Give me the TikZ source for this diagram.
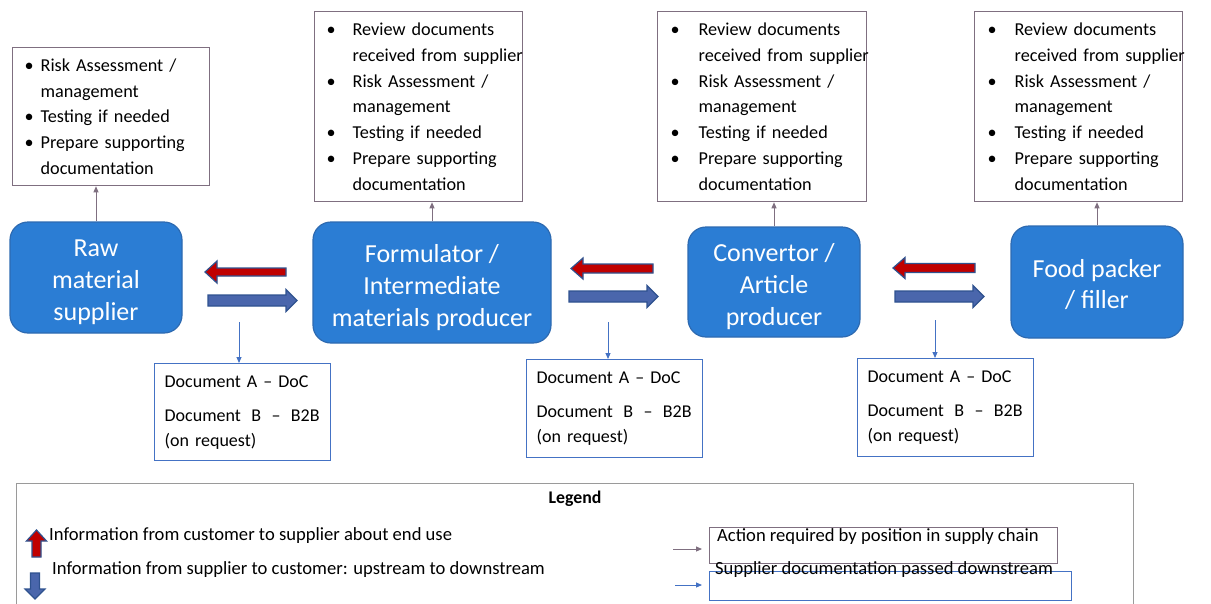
\documentclass[tikz,border=0pt]{standalone}
\usepackage{fontspec}
\setmainfont{Carlito}
\usetikzlibrary{arrows.meta}
\definecolor{boxfill}{HTML}{2B7DD4}
\definecolor{boxline}{HTML}{2D6AB1}
\definecolor{actline}{HTML}{7F6F80}
\definecolor{docline}{HTML}{4472C4}
\definecolor{legline}{HTML}{9A9A9A}
\definecolor{redfill}{HTML}{C00000}
\definecolor{bluefill}{HTML}{4A66AC}
\definecolor{blkline}{HTML}{2F528F}
\newcommand{\blkarrow}[8]{%
\begin{scope}[shift={(#2,#3)},rotate=#5]
\draw[blockarrow,fill=#1] (0,-#6) -- ({#4-#8},-#6) -- ({#4-#8},-#7) -- (#4,0) -- ({#4-#8},#7) -- ({#4-#8},#6) -- (0,#6) -- cycle;
\end{scope}}
\newcommand{\bitem}[2]{\mbox{\makebox[#1][l]{\textbullet}#2}}
\newcommand{\citem}[2]{\mbox{\hspace*{#1}#2}}
\newcommand{\docB}{\makebox[155pt][s]{Document\hfill B\hfill –\hfill B2B}}
\newcommand{\tup}[1]{\rule{0pt}{#1}}
\tikzset{
  stage/.style={draw=boxline, line width=1.2pt, fill=boxfill, rounded corners=18pt, text=white,
    font=\fontsize{26}{32}\selectfont, align=center, inner sep=0pt},
  actbox/.style={draw=actline, line width=1.3pt, fill=white, anchor=north west, align=left,
    font=\fontsize{18.2}{25.8}\selectfont, inner ysep=0pt},
  docbox/.style={draw=docline, line width=1.3pt, fill=white, anchor=north west, align=left,
    font=\fontsize{18}{25}\selectfont, inner xsep=10pt, inner ysep=0pt, text width=156pt},
  legbox/.style={draw=legline, line width=1.3pt, anchor=north west, inner sep=0pt},
  legtext/.style={anchor=west, inner sep=0pt, font=\fontsize{18.6}{22}\selectfont},
  actarrow/.style={draw=actline, line width=0.9pt, -{Triangle[length=6pt,width=5pt]}},
  docarrow/.style={draw=docline, line width=0.9pt, -{Triangle[length=6pt,width=5pt]}},
  blockarrow/.style={draw=blkline, line width=1.2pt, line join=miter}
}
\begin{document}
\begin{tikzpicture}[x=1pt,y=-1pt]
\useasboundingbox (0,0) rectangle (1211,603);
\fill[white] (0,0) rectangle (1211,603);

% stages
\node[stage, minimum width=172pt, minimum height=111pt] (raw) at (96,277.5) {\tup{27pt}Raw\\material\\supplier};
\node[stage, minimum width=238pt, minimum height=121pt] (form) at (432,282.5) {\tup{28.5pt}Formulator /\\Intermediate\\materials producer};
\node[stage, minimum width=172pt, minimum height=110pt] (conv) at (774,282) {\tup{26.5pt}Convertor /\\Article\\producer};
\node[stage, minimum width=172pt, minimum height=112pt, font=\fontsize{26}{31}\selectfont] (food) at (1097,282) {\tup{22.5pt}Food packer\\/ filler};

% action boxes
\node[actbox, inner xsep=12pt, text width=173pt, minimum height=138pt] (act1) at (12,47) {%
\bitem{16pt}{Risk Assessment /}\\ \citem{16pt}{management}\\ \bitem{16pt}{Testing if needed}\\ \bitem{16pt}{Prepare supporting}\\ \citem{16pt}{documentation}};
\node[actbox, inner xsep=12pt, text width=184pt, minimum height=190pt] (act2) at (314,11) {%
\bitem{26pt}{Review documents}\\ \citem{26pt}{received from supplier}\\ \bitem{26pt}{Risk Assessment /}\\ \citem{26pt}{management}\\ \bitem{26pt}{Testing if needed}\\ \bitem{26pt}{Prepare supporting}\\ \citem{26pt}{documentation}};
\node[actbox, inner xsep=13pt, text width=183pt, minimum height=190pt] (act3) at (657,11) {%
\bitem{28pt}{Review documents}\\ \citem{28pt}{received from supplier}\\ \bitem{28pt}{Risk Assessment /}\\ \citem{28pt}{management}\\ \bitem{28pt}{Testing if needed}\\ \bitem{28pt}{Prepare supporting}\\ \citem{28pt}{documentation}};
\node[actbox, inner xsep=13pt, text width=182pt, minimum height=190pt] (act4) at (974,11) {%
\bitem{27pt}{Review documents}\\ \citem{27pt}{received from supplier}\\ \bitem{27pt}{Risk Assessment /}\\ \citem{27pt}{management}\\ \bitem{27pt}{Testing if needed}\\ \bitem{27pt}{Prepare supporting}\\ \citem{27pt}{documentation}};

\draw[actarrow] (raw.north) -- (raw.north |- act1.south);
\draw[actarrow] (form.north) -- (form.north |- act2.south);
\draw[actarrow] (conv.north) -- (conv.north |- act3.south);
\draw[actarrow] (food.north) -- (food.north |- act4.south);

% block arrows
\blkarrow{redfill}{286}{272}{81}{180}{4}{11}{12}
\blkarrow{bluefill}{208}{300.5}{89}{0}{5.5}{11}{11}
\blkarrow{redfill}{653}{268.5}{82}{180}{4.5}{10.5}{12}
\blkarrow{bluefill}{569}{296.5}{89}{0}{5.5}{11}{11}
\blkarrow{redfill}{975}{268}{82}{180}{4.5}{10.5}{12}
\blkarrow{bluefill}{895}{296.5}{89}{0}{5.5}{11}{11}

% documentation boxes
\node[docbox, minimum height=97pt] (doc1) at (154,363) {Document A – DoC\\[9pt]\docB\\(on request)};
\node[docbox, minimum height=98pt] (doc2) at (526,359) {Document A – DoC\\[9pt]\docB\\(on request)};
\node[docbox, minimum height=98pt] (doc3) at (857,358) {Document A – DoC\\[9pt]\docB\\(on request)};

\coordinate (d1s) at (239,322);
\coordinate (d2s) at (608,322);
\coordinate (d3s) at (935,320);
\draw[docarrow] (d1s) -- (d1s |- doc1.north);
\draw[docarrow] (d2s) -- (d2s |- doc2.north);
\draw[docarrow] (d3s) -- (d3s |- doc3.north);

% legend
\node[legbox, minimum width=1117pt, minimum height=130pt] (legend) at (16,483) {};
\node[inner sep=0pt, font=\bfseries\fontsize{17.8}{21}\selectfont] (legtitle) at (575,499) {Legend};
\blkarrow{redfill}{36.5}{557}{27}{90}{4.5}{10}{11}
\blkarrow{bluefill}{35}{573}{26}{-90}{4.5}{10}{10}
\node[legtext] (l1) at (49,536) {Information from customer to supplier about end use};
\node[legtext] (l2) at (52,570) {Information from supplier to customer: upstream to downstream};

\node[legbox, draw=actline, line width=1pt, minimum width=348pt, minimum height=36pt] (lab1) at (709,527) {};
\node[legtext] (l3) at (717,537) {Action required by position in supply chain};
\node[legbox, draw=docline, line width=1pt, minimum width=362pt, minimum height=29pt] (lab2) at (709,571) {};
\node[legtext] (l4) at (715,570) {Supplier documentation passed downstream};
\coordinate (g1) at (673,549);
\coordinate (g2) at (702,549);
\coordinate (b1) at (675,585);
\coordinate (b2) at (702,585);
\draw[actarrow] (g1) -- (g2);
\draw[docarrow] (b1) -- (b2);
\end{tikzpicture}
\end{document}
